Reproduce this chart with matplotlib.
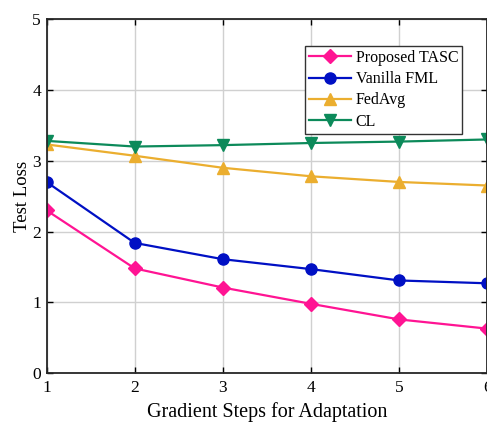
import matplotlib
matplotlib.use("Agg")
import matplotlib.pyplot as plt

steps = [1, 2, 3, 4, 5, 6]
proposed_tasc = [2.30, 1.48, 1.21, 0.98, 0.76, 0.63]
vanilla_fml = [2.70, 1.84, 1.61, 1.47, 1.31, 1.27]
fedavg = [3.23, 3.07, 2.90, 2.78, 2.70, 2.65]
cl = [3.28, 3.20, 3.22, 3.25, 3.27, 3.30]
x_ticks = [1, 2, 3, 4, 5, 6]
y_ticks = [0, 1, 2, 3, 4, 5]

plt.rcParams['font.family'] = ['Liberation Serif', 'DejaVu Serif']

fig = plt.figure(figsize=(4.87, 4.22), dpi=100)
ax = fig.add_axes([0.0955, 0.1154, 0.9055, 0.8396])

ax.plot(steps, proposed_tasc, color='#FF1493', marker='D', markersize=7, lw=1.6, label='Proposed TASC')
ax.plot(steps, vanilla_fml, color='#0010C4', marker='o', markersize=8, lw=1.6, label='Vanilla FML')
ax.plot(steps, fedavg, color='#EBAE2F', marker='^', markersize=8.5, lw=1.6, label='FedAvg')
ax.plot(steps, cl, color='#0C8A5A', marker='v', markersize=8.5, lw=1.6, label='CL')

ax.set_xlim(1, 6)
ax.set_ylim(0, 5)
ax.set_xticks(x_ticks)
ax.set_yticks(y_ticks)
ax.grid(True, color='#D0D0D0', lw=1.0)
ax.set_axisbelow(True)
ax.tick_params(direction='in', top=True, right=True, labelsize=12.5, length=4, width=1.0, pad=5)
ax.tick_params(axis='y', pad=4)
for s in ax.spines.values():
    s.set_linewidth(1.3)
    s.set_color('#262626')

ax.set_xlabel('Gradient Steps for Adaptation', fontsize=14.5, labelpad=4)
ax.set_ylabel('Test Loss', fontsize=13.5, labelpad=1)

leg = ax.legend(loc='upper left', bbox_to_anchor=(0.587, 0.924), fontsize=11.5,
                frameon=True, fancybox=False, framealpha=1, edgecolor='#333333',
                handlelength=2.6, borderpad=0.25, labelspacing=0.33, handletextpad=0.3,
                borderaxespad=0)
leg.get_frame().set_linewidth(1.0)

fig.savefig('out.png', dpi=100)
